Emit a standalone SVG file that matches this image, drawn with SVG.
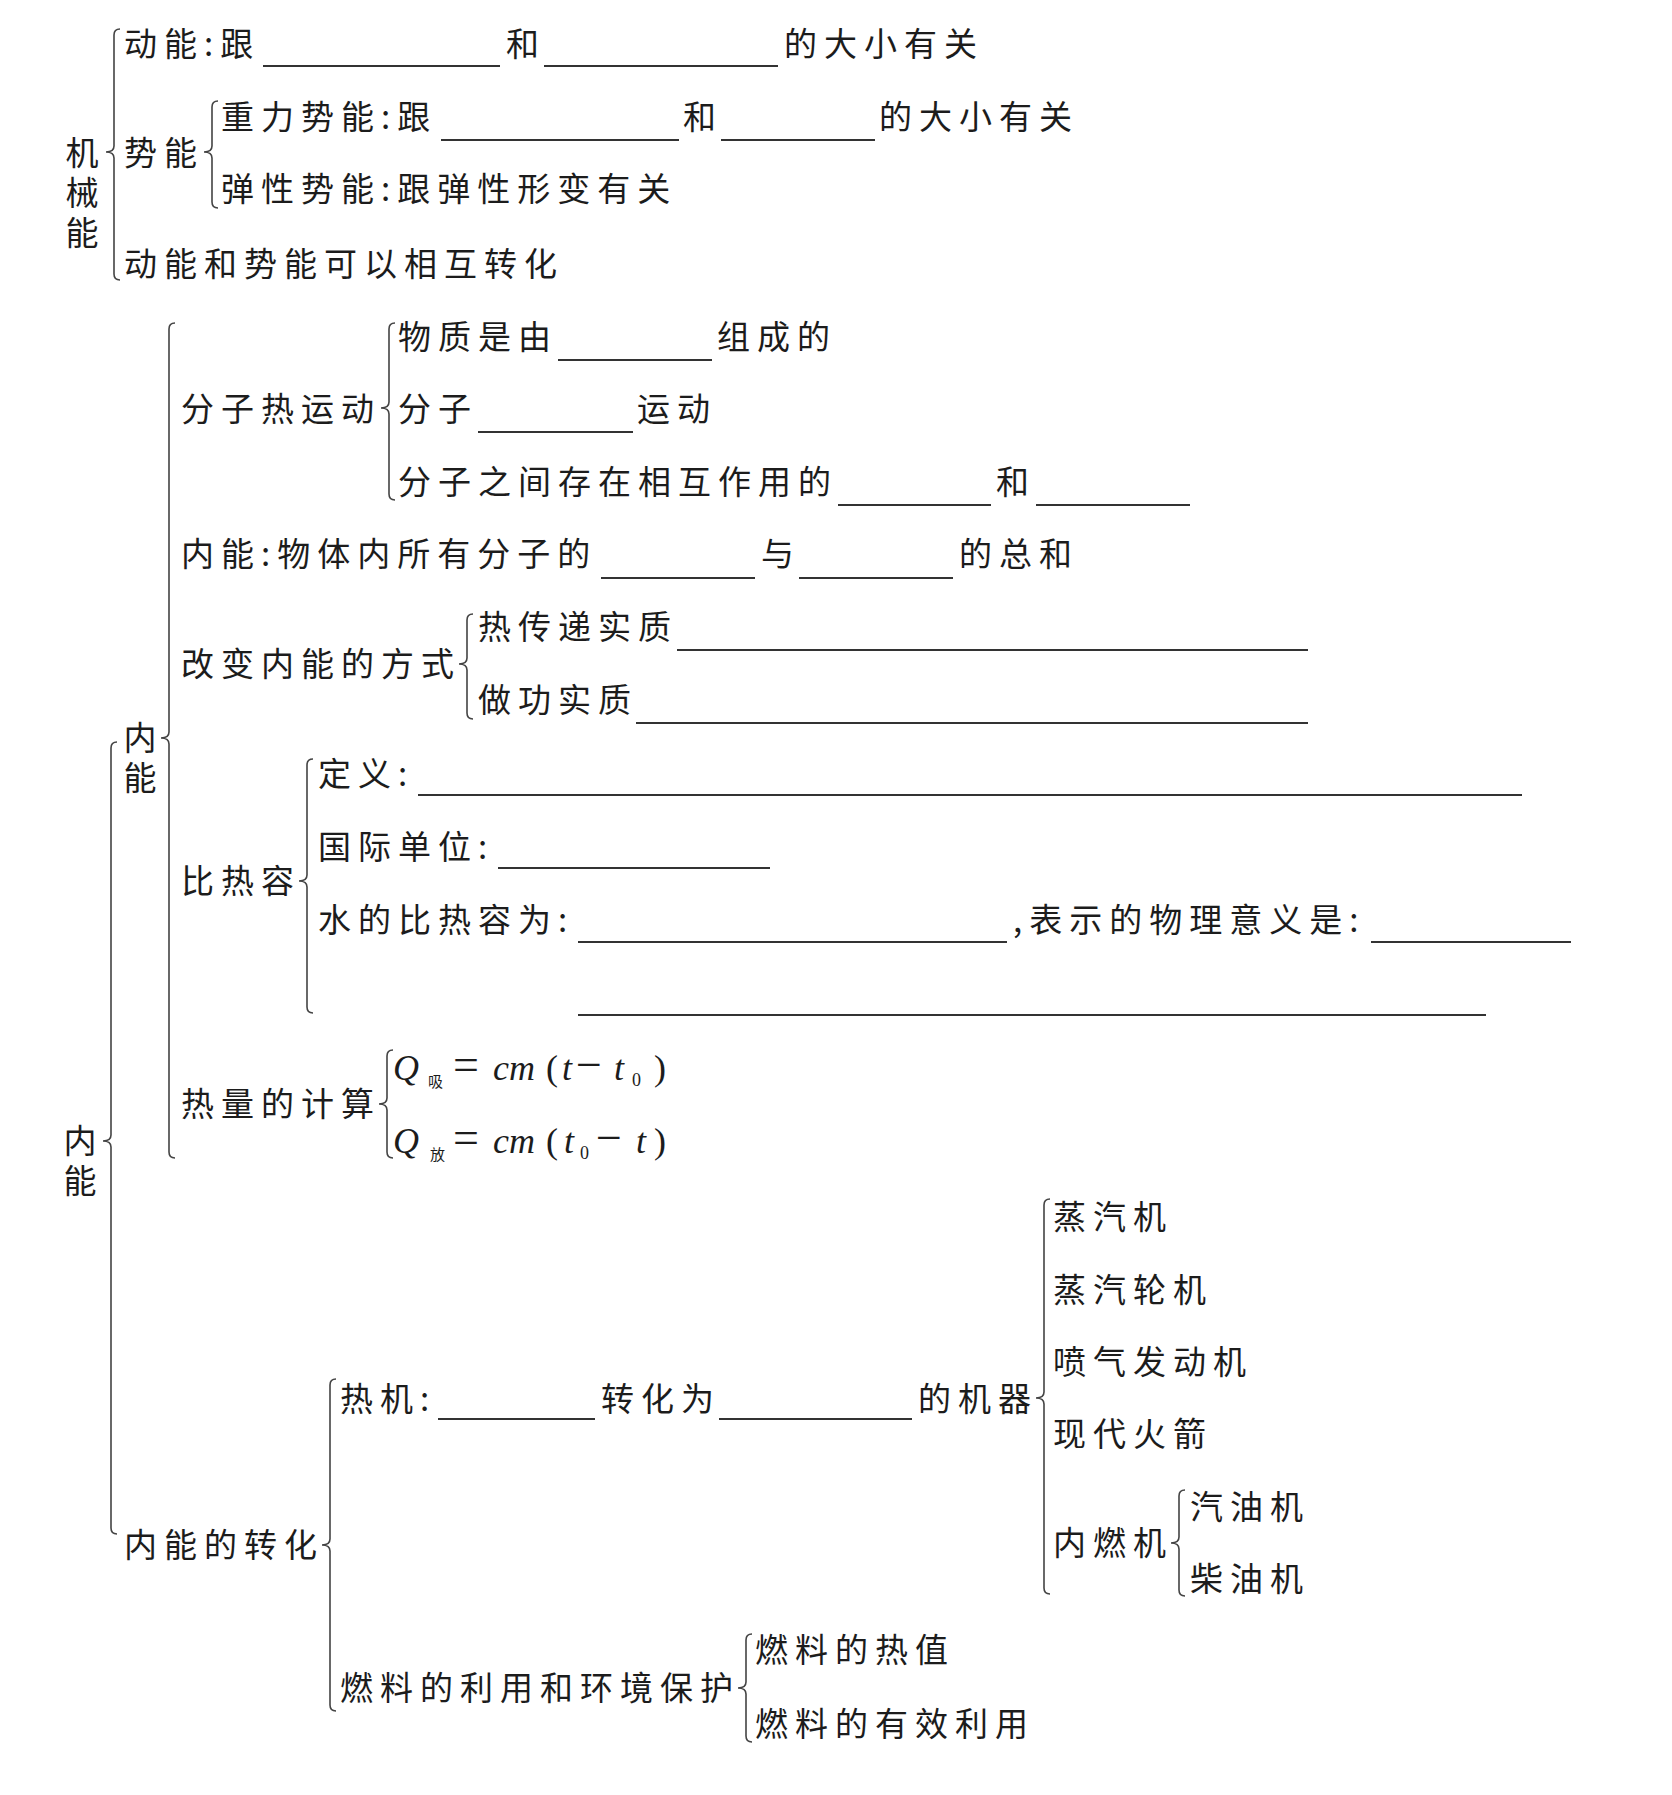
<svg xmlns="http://www.w3.org/2000/svg" width="1672" height="1795" viewBox="0 0 1672 1795">
<style>
.t{font-family:"Noto Sans CJK SC","Noto Sans",sans-serif;font-size:33px;letter-spacing:7px;fill:#1c1c1c}
.v{font-family:"Noto Sans CJK SC","Noto Sans",sans-serif;font-size:33px;letter-spacing:7px;fill:#1c1c1c;writing-mode:vertical-rl;text-orientation:upright}
.m{font-family:"Liberation Serif","Noto Sans CJK SC",serif;font-size:36px;fill:#1c1c1c}
.i{font-style:italic}
.s{font-family:"Noto Sans CJK SC",sans-serif;font-size:15px}
.o{font-size:46px}
.b{fill:none;stroke:#444;stroke-width:1.6}
.u{stroke:#333;stroke-width:2}
</style>
<rect width="1672" height="1795" fill="#fff"/>
<g id="connectors">
<path class="b" d="M120,29 Q114,29 114,35 L114,146 Q114,152 106,152 Q114,152 114,158 L114,274 Q114,280 120,280"/>
<path class="b" d="M218,101 Q212,101 212,107 L212,146 Q212,152 204,152 Q212,152 212,158 L212,202 Q212,208 218,208"/>
<path class="b" d="M117,742 Q111,742 111,748 L111,1135 Q111,1141 103,1141 Q111,1141 111,1147 L111,1528 Q111,1534 117,1534"/>
<path class="b" d="M175,323 Q169,323 169,329 L169,732 Q169,738 161,738 Q169,738 169,744 L169,1152 Q169,1158 175,1158"/>
<path class="b" d="M395,323 Q389,323 389,329 L389,402 Q389,408 381,408 Q389,408 389,414 L389,494 Q389,500 395,500"/>
<path class="b" d="M473,614 Q467,614 467,620 L467,658 Q467,664 459,664 Q467,664 467,670 L467,713 Q467,719 473,719"/>
<path class="b" d="M313,759 Q307,759 307,765 L307,875 Q307,881 299,881 Q307,881 307,887 L307,1007 Q307,1013 313,1013"/>
<path class="b" d="M393,1050 Q387,1050 387,1056 L387,1098 Q387,1104 379,1104 Q387,1104 387,1110 L387,1152 Q387,1158 393,1158"/>
<path class="b" d="M336,1379 Q330,1379 330,1385 L330,1539 Q330,1545 322,1545 Q330,1545 330,1551 L330,1705 Q330,1711 336,1711"/>
<path class="b" d="M1050,1199 Q1044,1199 1044,1205 L1044,1392 Q1044,1398 1036,1398 Q1044,1398 1044,1404 L1044,1588 Q1044,1594 1050,1594"/>
<path class="b" d="M1185,1490 Q1179,1490 1179,1496 L1179,1537 Q1179,1543 1171,1543 Q1179,1543 1179,1549 L1179,1590 Q1179,1596 1185,1596"/>
<path class="b" d="M752,1634 Q746,1634 746,1640 L746,1682 Q746,1688 738,1688 Q746,1688 746,1694 L746,1736 Q746,1742 752,1742"/>
</g>
<g id="blanks">
<line class="u" x1="263" y1="66" x2="500" y2="66"/>
<line class="u" x1="544" y1="66" x2="778" y2="66"/>
<line class="u" x1="441" y1="140" x2="679" y2="140"/>
<line class="u" x1="721" y1="140" x2="875" y2="140"/>
<line class="u" x1="558" y1="360" x2="712" y2="360"/>
<line class="u" x1="478" y1="432" x2="633" y2="432"/>
<line class="u" x1="838" y1="505" x2="991" y2="505"/>
<line class="u" x1="1036" y1="505" x2="1190" y2="505"/>
<line class="u" x1="601" y1="578" x2="755" y2="578"/>
<line class="u" x1="799" y1="578" x2="953" y2="578"/>
<line class="u" x1="677" y1="650" x2="1308" y2="650"/>
<line class="u" x1="636" y1="723" x2="1308" y2="723"/>
<line class="u" x1="418" y1="795" x2="1522" y2="795"/>
<line class="u" x1="498" y1="868" x2="770" y2="868"/>
<line class="u" x1="578" y1="942" x2="1007" y2="942"/>
<line class="u" x1="1371" y1="942" x2="1571" y2="942"/>
<line class="u" x1="578" y1="1015" x2="1486" y2="1015"/>
<line class="u" x1="438" y1="1419" x2="595" y2="1419"/>
<line class="u" x1="719" y1="1419" x2="912" y2="1419"/>
</g>
<g id="n-jixieneng"><text class="v" x="82" y="136">机械能</text></g>
<g id="n-dongneng"><text class="t" x="124" y="56">动能:跟</text><text class="t" x="506" y="56">和</text><text class="t" x="784" y="56">的大小有关</text></g>
<g id="n-shineng"><text class="t" x="124" y="165">势能</text></g>
<g id="n-zhongli"><text class="t" x="221" y="129">重力势能:跟</text><text class="t" x="683" y="129">和</text><text class="t" x="879" y="129">的大小有关</text></g>
<g id="n-tanxing"><text class="t" x="221" y="201">弹性势能:跟弹性形变有关</text></g>
<g id="n-zhuanhua1"><text class="t" x="124" y="276">动能和势能可以相互转化</text></g>
<g id="n-neineng1"><text class="v" x="80" y="1124">内能</text></g>
<g id="n-neineng2"><text class="v" x="140" y="721">内能</text></g>
<g id="n-fenzi"><text class="t" x="181" y="421">分子热运动</text></g>
<g id="n-wuzhi"><text class="t" x="398" y="349">物质是由</text><text class="t" x="717" y="349">组成的</text></g>
<g id="n-fenziyundong"><text class="t" x="398" y="421">分子</text><text class="t" x="637" y="421">运动</text></g>
<g id="n-zuoyong"><text class="t" x="398" y="494">分子之间存在相互作用的</text><text class="t" x="996" y="494">和</text></g>
<g id="n-neinengdef"><text class="t" x="181" y="566">内能:物体内所有分子的</text><text class="t" x="761" y="566">与</text><text class="t" x="959" y="566">的总和</text></g>
<g id="n-gaibian"><text class="t" x="181" y="676">改变内能的方式</text></g>
<g id="n-rechuandi"><text class="t" x="478" y="639">热传递实质</text></g>
<g id="n-zuogong"><text class="t" x="478" y="712">做功实质</text></g>
<g id="n-bireirong"><text class="t" x="181" y="893">比热容</text></g>
<g id="n-dingyi"><text class="t" x="318" y="786">定义:</text></g>
<g id="n-danwei"><text class="t" x="318" y="859">国际单位:</text></g>
<g id="n-shui"><text class="t" x="318" y="932">水的比热容为:</text><text class="t" x="1013" y="932">,表示的物理意义是:</text></g>
<g id="n-reliang"><text class="t" x="181" y="1116">热量的计算</text></g>
<g id="n-qxi"><text class="m" y="1080"><tspan x="393" class="i">Q</tspan><tspan x="428" dy="7" class="s">吸</tspan><tspan x="453" dy="-7" class="o">=</tspan><tspan x="493" class="i">cm</tspan><tspan x="546">(</tspan><tspan x="562" class="i">t</tspan><tspan x="576" class="o">−</tspan><tspan x="614" class="i">t</tspan><tspan x="632" dy="6" font-size="18">0</tspan><tspan x="654" dy="-6">)</tspan></text></g>
<g id="n-qfang"><text class="m" y="1153"><tspan x="393" class="i">Q</tspan><tspan x="430" dy="7" class="s">放</tspan><tspan x="453" dy="-7" class="o">=</tspan><tspan x="493" class="i">cm</tspan><tspan x="546">(</tspan><tspan x="564" class="i">t</tspan><tspan x="580" dy="6" font-size="18">0</tspan><tspan x="596" dy="-6" class="o">−</tspan><tspan x="636" class="i">t</tspan><tspan x="654">)</tspan></text></g>
<g id="n-zhuanhua"><text class="t" x="124" y="1557">内能的转化</text></g>
<g id="n-reji"><text class="t" x="340" y="1411">热机:</text><text class="t" x="601" y="1411">转化为</text><text class="t" x="918" y="1411">的机器</text></g>
<g id="n-zhengqiji"><text class="t" x="1053" y="1229">蒸汽机</text></g>
<g id="n-lunji"><text class="t" x="1053" y="1302">蒸汽轮机</text></g>
<g id="n-penqi"><text class="t" x="1053" y="1374">喷气发动机</text></g>
<g id="n-huojian"><text class="t" x="1053" y="1446">现代火箭</text></g>
<g id="n-neiranji"><text class="t" x="1053" y="1555">内燃机</text></g>
<g id="n-qiyou"><text class="t" x="1190" y="1519">汽油机</text></g>
<g id="n-chaiyou"><text class="t" x="1190" y="1591">柴油机</text></g>
<g id="n-ranliao"><text class="t" x="340" y="1700">燃料的利用和环境保护</text></g>
<g id="n-rezhi"><text class="t" x="755" y="1662">燃料的热值</text></g>
<g id="n-youxiao"><text class="t" x="755" y="1736">燃料的有效利用</text></g>
</svg>
